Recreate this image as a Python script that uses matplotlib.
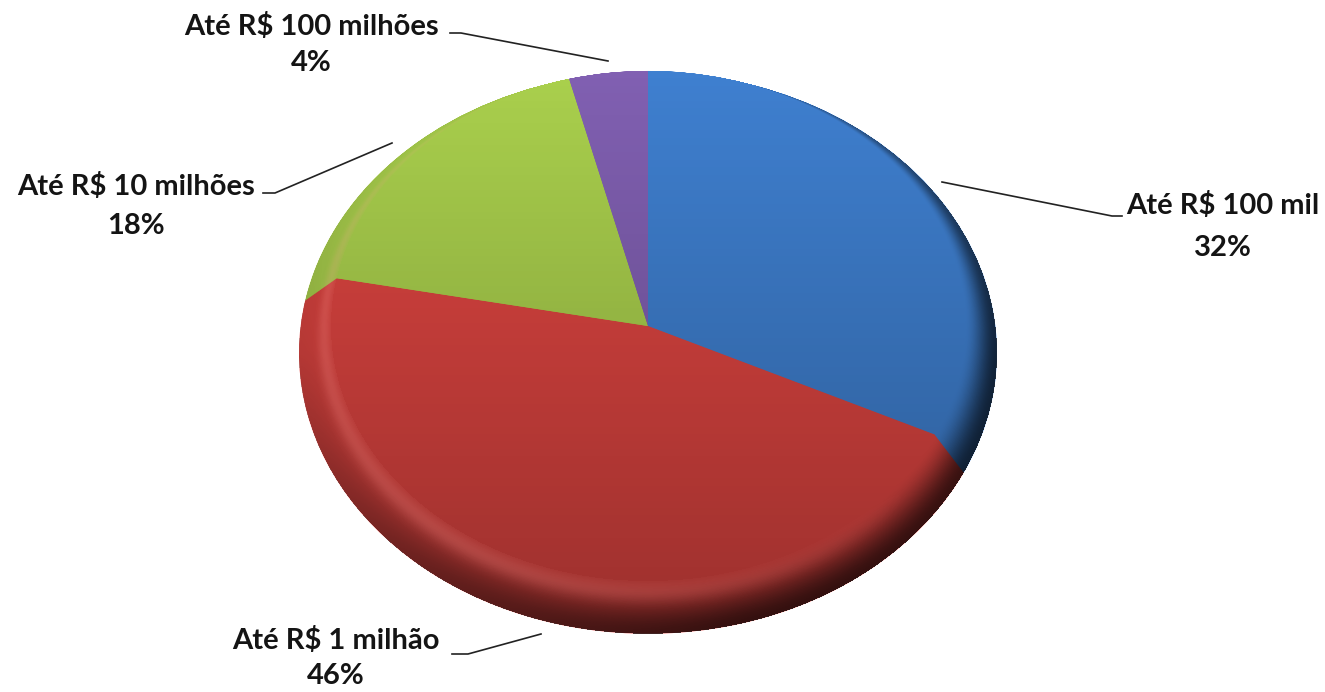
import numpy as np
import matplotlib
matplotlib.use("Agg")
import matplotlib.pyplot as plt

categories = ["Até R$ 100 mil", "Até R$ 1 milhão", "Até R$ 10 milhões", "Até R$ 100 milhões"]
values = [32, 46, 18, 4]
colors = ["#3f80d0", "#de4541", "#aad04d", "#8160b2"]

W, H = 1325, 692
STRETCH = 1.243  # the pie is an ellipse, so y data units are squeezed

# inner face and outer rim of the bevel, in pixels
CX = 648
RX_IN, RX_OUT = 317, 349
CY_IN, CY_OUT = 326, 353


def ydata(py):
    return (H - py) * STRETCH


fig = plt.figure(figsize=(W / 100, H / 100), dpi=100)
ax = fig.add_axes([0, 0, 1, 1])

# stacked pies from the rim up to the face give the bevel its shape
for t in np.linspace(1, 0, 60):
    ax.pie(values, colors=colors, startangle=90, counterclock=False,
           center=(CX, ydata(CY_IN + (CY_OUT - CY_IN) * t)),
           radius=RX_IN + (RX_OUT - RX_IN) * t,
           wedgeprops={"linewidth": 0})

# shading on top of the slices
px, py = np.meshgrid(np.arange(W) + 0.5, np.arange(H) + 0.5)
t_map = np.full(px.shape, np.nan)
for t in np.linspace(1, 0, 129):
    rx = RX_IN + (RX_OUT - RX_IN) * t
    cy = CY_IN + (CY_OUT - CY_IN) * t
    inside = ((px - CX) / rx) ** 2 + ((py - cy) * STRETCH / rx) ** 2 <= 1
    t_map[inside] = t
mask = ~np.isnan(t_map)
t_map = np.nan_to_num(t_map)

dx = px - CX
dy = (py - CY_IN) * STRETCH
norm = np.hypot(dx, dy) + 1e-6
ux, uy = dx / norm, dy / norm

face_dark = np.clip((py - 71) / 510, 0, 1) * 0.27
s = t_map * t_map * (3 - 2 * t_map)
rim_dark = s * np.clip(0.33 + 0.42 * (0.75 * ux + 0.66 * uy), 0.04, 0.68)
glow = np.exp(-((t_map - 0.22) / 0.2) ** 2) * np.clip(0.06 - 0.13 * ux + 0.08 * uy, 0, 0.2)
glow[t_map == 0] = 0

dark = 1 - (1 - face_dark) * (1 - rim_dark)
shade = np.zeros((H, W, 4))
shade[..., 3] = np.where(mask, dark, 0)
light = np.zeros((H, W, 4))
light[..., 0] = 1
light[..., 1] = 0.62
light[..., 2] = 0.6
light[..., 3] = np.where(mask, glow, 0)
extent = (0, W, ydata(H), ydata(0))
ax.imshow(shade, extent=extent, aspect="auto", interpolation="nearest", zorder=5)
ax.imshow(light, extent=extent, aspect="auto", interpolation="nearest", zorder=6)

# leader lines
leaders = [
    ([942, 1112, 1122], [182, 216, 216]),
    ([541, 468, 452], [634, 654, 654]),
    ([392, 275, 263], [143, 193, 193]),
    ([608, 461, 450], [61, 33, 33]),
]
for lx, ly in leaders:
    ax.plot(lx, [ydata(v) for v in ly], color="#222222", linewidth=1.2, zorder=7)

# data labels
label_pos = [(1223, 205, 248), (336, 640, 676), (136, 186, 226), (311, 27, 63)]
for cat, val, (lx, y1, y2) in zip(categories, values, label_pos):
    ax.text(lx, ydata(y1), cat, ha="center", va="center", family="Lato",
            fontweight="bold", fontsize=21, color="#141414", zorder=8)
    ax.text(lx, ydata(y2), f"{val}%", ha="center", va="center", family="Lato",
            fontweight="bold", fontsize=21, color="#141414", zorder=8)

ax.set_aspect("auto")
ax.set_xlim(0, W)
ax.set_ylim(0, ydata(0))
ax.axis("off")

fig.savefig("out.png", dpi=100)
